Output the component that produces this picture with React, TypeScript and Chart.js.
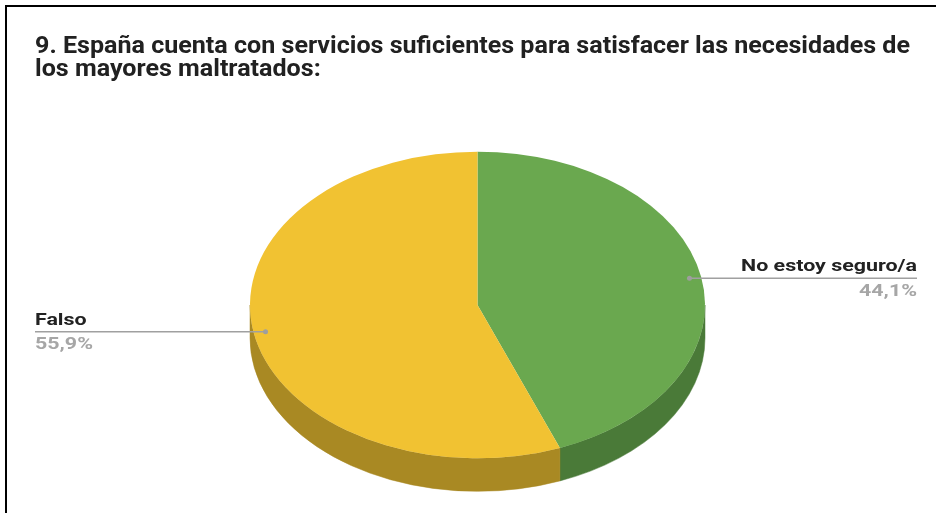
import React, { useEffect, useRef } from 'react';
import { Chart, registerables } from 'chart.js';

Chart.register(...registerables);

const TITLE_LINES = [
  '9. España cuenta con servicios suficientes para satisfacer las necesidades de',
  'los mayores maltratados:',
];
const CATEGORIES = ['No estoy seguro/a', 'Falso'];
const VALUES = [44.1, 55.9];
const TOP_COLORS = ['#6aa84f', '#f1c232'];
const SIDE_COLORS = ['#4a7a38', '#a98923'];

const TILT = 0.674;
const DEPTH = 33;
const FONT = 'Roboto, "Noto Sans", Arial, sans-serif';
const LABEL_STRETCH = 1.26;

function drawStretched(ctx: CanvasRenderingContext2D, text: string, x: number, y: number, sx: number) {
  ctx.save();
  ctx.translate(x, y);
  ctx.scale(sx, 1);
  ctx.fillText(text, 0, 0);
  ctx.restore();
}

const pie3d = {
  id: 'pie3d',
  beforeDraw(chart: any) {
    const ctx = chart.ctx as CanvasRenderingContext2D;
    ctx.save();
    ctx.fillStyle = '#ffffff';
    ctx.fillRect(0, 0, chart.width, chart.height);
    ctx.fillStyle = '#000000';
    ctx.fillRect(5, 5, chart.width - 5, 2);
    ctx.fillRect(5, 5, 2, chart.height - 5);
    ctx.font = `bold 23px ${FONT}`;
    ctx.fillStyle = '#212121';
    ctx.textAlign = 'left';
    ctx.textBaseline = 'alphabetic';
    const w = ctx.measureText(TITLE_LINES[0]).width;
    const sx = Math.min(1.3, 875 / w);
    TITLE_LINES.forEach((line, i) => {
      drawStretched(ctx, line, 35, 53 + i * 22.5, sx);
    });
    ctx.restore();
  },
  beforeDatasetsDraw(chart: any) {
    const ctx = chart.ctx as CanvasRenderingContext2D;
    const arcs = chart.getDatasetMeta(0).data as any[];
    ctx.save();
    if (!arcs.length) return;
    const { x: cx, y: cy, outerRadius: r } = arcs[0];
    arcs.forEach((arc, i) => {
      const s = arc.startAngle;
      const e = arc.endAngle;
      for (let k = -1; k <= 1; k++) {
        const lo = Math.max(s, 2 * Math.PI * k);
        const hi = Math.min(e, 2 * Math.PI * k + Math.PI);
        if (hi > lo) {
          ctx.beginPath();
          ctx.ellipse(cx, cy, r, r * TILT, 0, lo, hi, false);
          ctx.ellipse(cx, cy + DEPTH, r, r * TILT, 0, hi, lo, true);
          ctx.closePath();
          ctx.fillStyle = SIDE_COLORS[i];
          ctx.fill();
          ctx.strokeStyle = SIDE_COLORS[i];
          ctx.lineWidth = 0.5;
          ctx.stroke();
        }
      }
    });
    ctx.translate(cx, cy);
    ctx.scale(1, TILT);
    ctx.translate(-cx, -cy);
  },
  afterDatasetsDraw(chart: any) {
    const ctx = chart.ctx as CanvasRenderingContext2D;
    ctx.restore();
    const arcs = chart.getDatasetMeta(0).data as any[];
    if (!arcs.length) return;
    const values = chart.data.datasets[0].data as number[];
    const labels = chart.data.labels as string[];
    ctx.save();
    arcs.forEach((arc, i) => {
      const { x: cx, y: cy, outerRadius: r } = arc;
      const mid = (arc.startAngle + arc.endAngle) / 2;
      const dx = cx + 0.948 * r * Math.cos(mid);
      const dy = cy + 0.948 * r * TILT * Math.sin(mid);
      const right = Math.cos(mid) >= 0;
      const endX = right ? 917 : 35;
      ctx.strokeStyle = '#a0a0a0';
      ctx.lineWidth = 1.5;
      ctx.beginPath();
      ctx.moveTo(dx, dy);
      ctx.lineTo(endX, dy);
      ctx.stroke();
      ctx.fillStyle = '#9e9e9e';
      ctx.beginPath();
      ctx.arc(dx, dy, 2.5, 0, Math.PI * 2);
      ctx.fill();
      ctx.textAlign = right ? 'right' : 'left';
      ctx.textBaseline = 'alphabetic';
      ctx.font = `bold 17px ${FONT}`;
      ctx.fillStyle = '#222222';
      drawStretched(ctx, labels[i], endX, dy - 7, LABEL_STRETCH);
      ctx.fillStyle = '#a6a6a6';
      drawStretched(ctx, values[i].toFixed(1).replace('.', ',') + '%', endX, dy + 17.5, LABEL_STRETCH);
    });
    ctx.restore();
  },
};

export default function App() {
  const ref = useRef<HTMLCanvasElement | null>(null);
  useEffect(() => {
    const canvas = ref.current;
    if (!canvas) return;
    const chart = new Chart(canvas, {
      type: 'pie',
      data: {
        labels: CATEGORIES,
        datasets: [
          {
            data: VALUES,
            backgroundColor: TOP_COLORS,
            borderWidth: 0,
            radius: 227.5,
            clip: false,
          } as any,
        ],
      },
      options: {
        responsive: false,
        animation: false,
        events: [],
        layout: { padding: { left: 19, right: 0, top: 97, bottom: 0 } },
        plugins: {
          legend: { display: false },
          title: { display: false },
          tooltip: { enabled: false },
        },
      },
      plugins: [pie3d],
    });
    return () => chart.destroy();
  }, []);
  return (
    <div style={{ position: 'fixed', left: 0, top: 0, width: 936, height: 513, background: '#fff' }}>
      <canvas ref={ref} width={936} height={513} style={{ width: 936, height: 513, display: 'block' }} />
    </div>
  );
}
